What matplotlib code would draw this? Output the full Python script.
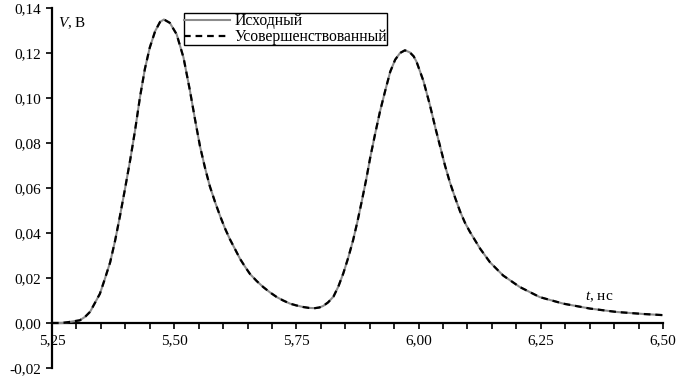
import matplotlib

matplotlib.use("Agg")
import matplotlib.pyplot as plt
from matplotlib.ticker import FuncFormatter, MultipleLocator

plt.rcParams["font.family"] = ["Liberation Serif", "DejaVu Serif"]
plt.rcParams["mathtext.fontset"] = "custom"
plt.rcParams["mathtext.it"] = "Liberation Serif:italic"
plt.rcParams["mathtext.rm"] = "Liberation Serif"

# time, ns
t_ns = [
    5.250, 5.270, 5.287, 5.307, 5.318, 5.328, 5.338, 5.348, 5.358, 5.369,
    5.379, 5.389, 5.399, 5.410, 5.420, 5.430, 5.440, 5.450, 5.461, 5.471,
    5.479, 5.491, 5.505, 5.519, 5.532, 5.543, 5.553, 5.563, 5.573, 5.584,
    5.594, 5.604, 5.614, 5.625, 5.635, 5.645, 5.655, 5.669, 5.682, 5.696,
    5.710, 5.723, 5.737, 5.750, 5.764, 5.776, 5.788, 5.797, 5.805, 5.815,
    5.826, 5.836, 5.846, 5.856, 5.866, 5.875, 5.884, 5.893, 5.901, 5.911,
    5.921, 5.932, 5.942, 5.952, 5.962, 5.972, 5.982, 5.990, 5.996, 6.010,
    6.023, 6.034, 6.044, 6.054, 6.064, 6.075, 6.085, 6.095, 6.105, 6.126,
    6.146, 6.173, 6.207, 6.248, 6.296, 6.351, 6.405, 6.460, 6.500,
]
# source design, V
v_source = [
    0.0000, 0.0000, 0.0005, 0.0012, 0.0028, 0.0050, 0.0090, 0.0130, 0.0195, 0.0270,
    0.0365, 0.0475, 0.0592, 0.0725, 0.0857, 0.1004, 0.1129, 0.1224, 0.1297, 0.1338,
    0.1349, 0.1334, 0.1283, 0.1180, 0.1035, 0.0900, 0.0783, 0.0690, 0.0607, 0.0535,
    0.0475, 0.0420, 0.0372, 0.0326, 0.0284, 0.0250, 0.0218, 0.0186, 0.0160, 0.0136,
    0.0115, 0.0100, 0.0086, 0.0078, 0.0071, 0.0067, 0.0066, 0.0069, 0.0076, 0.0092,
    0.0118, 0.0163, 0.0221, 0.0290, 0.0368, 0.0452, 0.0544, 0.0640, 0.0735, 0.0840,
    0.0940, 0.1035, 0.1117, 0.1170, 0.1200, 0.1212, 0.1203, 0.1185, 0.1160, 0.1075,
    0.0970, 0.0870, 0.0785, 0.0700, 0.0625, 0.0555, 0.0495, 0.0445, 0.0405, 0.0330,
    0.0270, 0.0211, 0.0160, 0.0115, 0.0086, 0.0064, 0.0049, 0.0040, 0.0035,
]
# improved design, V (coincides with the source curve on the plot)
v_improved = [
    0.0000, 0.0000, 0.0005, 0.0012, 0.0028, 0.0050, 0.0090, 0.0130, 0.0195, 0.0270,
    0.0365, 0.0475, 0.0592, 0.0725, 0.0857, 0.1004, 0.1129, 0.1224, 0.1297, 0.1338,
    0.1349, 0.1334, 0.1283, 0.1180, 0.1035, 0.0900, 0.0783, 0.0690, 0.0607, 0.0535,
    0.0475, 0.0420, 0.0372, 0.0326, 0.0284, 0.0250, 0.0218, 0.0186, 0.0160, 0.0136,
    0.0115, 0.0100, 0.0086, 0.0078, 0.0071, 0.0067, 0.0066, 0.0069, 0.0076, 0.0092,
    0.0118, 0.0163, 0.0221, 0.0290, 0.0368, 0.0452, 0.0544, 0.0640, 0.0735, 0.0840,
    0.0940, 0.1035, 0.1117, 0.1170, 0.1200, 0.1212, 0.1203, 0.1185, 0.1160, 0.1075,
    0.0970, 0.0870, 0.0785, 0.0700, 0.0625, 0.0555, 0.0495, 0.0445, 0.0405, 0.0330,
    0.0270, 0.0211, 0.0160, 0.0115, 0.0086, 0.0064, 0.0049, 0.0040, 0.0035,
]

W, H = 677, 383
fig = plt.figure(figsize=(W / 100, H / 100), dpi=100)
ax = fig.add_axes([52 / W, 15 / H, 611 / W, 360 / H])

ax.plot(t_ns, v_source, color="#8c8c8c", lw=1.5, label="Исходный", zorder=3,
        solid_joinstyle="round")
ax.plot(t_ns, v_improved, color="black", lw=1.6, dashes=(3.0, 2.2),
        label="Усовершенствованный", zorder=4)

ax.set_xlim(5.25, 6.50)
ax.set_ylim(-0.02, 0.14)

# axes cross at zero
for side in ("top", "right"):
    ax.spines[side].set_visible(False)
ax.spines["bottom"].set_position(("data", 0))
ax.spines["bottom"].set_linewidth(1.6)
ax.spines["left"].set_linewidth(1.6)

comma = FuncFormatter(lambda v, _: f"{v:.2f}".replace(".", ","))
ax.xaxis.set_major_locator(MultipleLocator(0.25))
ax.xaxis.set_minor_locator(MultipleLocator(0.05))
ax.yaxis.set_major_locator(MultipleLocator(0.02))
ax.xaxis.set_major_formatter(comma)
ax.yaxis.set_major_formatter(comma)
ax.tick_params(axis="both", which="both", direction="out", length=4, width=1.2,
               labelsize=11)
ax.tick_params(axis="x", pad=4)

ax.text(5.262, 0.1333, "$V$, В", fontsize=11, ha="left", va="center")
ax.text(6.340, 0.0117, "$t$, нс", fontsize=11, ha="left", va="center")

leg = ax.legend(loc="upper left", bbox_to_anchor=(184 / W, 1 - 13 / H),
                bbox_transform=fig.transFigure, fontsize=11.3, fancybox=False,
                framealpha=1, edgecolor="black", borderaxespad=0, borderpad=0.0,
                labelspacing=0.0, handlelength=2.9, handletextpad=0.3)
leg.get_frame().set_linewidth(1.0)

fig.savefig("out.png", dpi=100)
